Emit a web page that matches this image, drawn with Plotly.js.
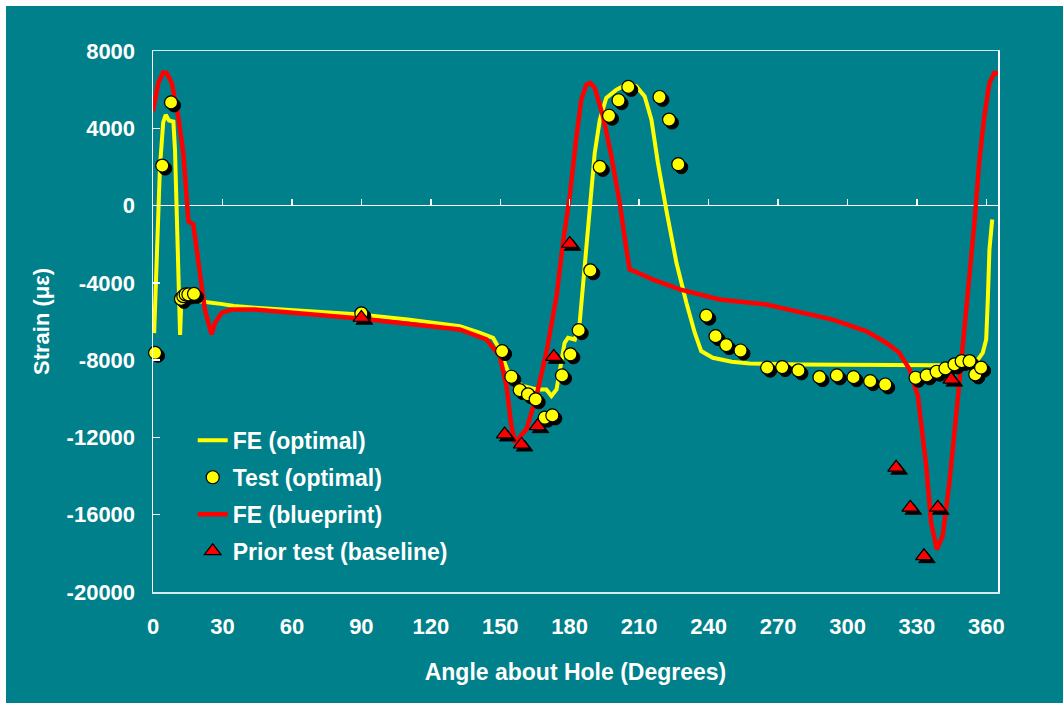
<!DOCTYPE html>
<html><head><meta charset="utf-8">
<script src="https://cdn.plot.ly/plotly-3.0.1.min.js"></script>
<style>
html,body{margin:0;padding:0;background:#ffffff;width:1063px;height:703px;overflow:hidden}
#chart{position:absolute;left:6px;top:6px;width:1057px;height:697px}
</style></head><body><div id="chart"></div>
<script>
// ---- data (angle in degrees, strain in microstrain) ----
const angleFEoptimal = [0.5,1.6,3,4.4,5.5,6.9,8.8,9.5,10.2,10.9,11.7,12.3,15,20,30,35,44,89.4,110,132.5,141,146.9,149.8,154.1,159.8,165.6,169.9,172.1,174.3,175.7,177.8,179.3,182.2,184.3,185.7,187.2,188.6,190.8,193,195.8,200.2,204.5,208.8,212.4,215.3,218.1,221.7,226.1,230.4,234,236.8,241.8,250,257.7,279.3,300,322.4,339.7,350,355.8,358.4,359.9,360.6,361.3,362.5];
const strainFEoptimal = [-6600,-2300,2000,4300,4700,4400,4350,2900,-550,-4000,-6700,-4700,-4800,-4950,-5100,-5200,-5290,-5640,-5900,-6240,-6580,-6850,-7450,-8830,-9340,-9520,-9520,-9860,-9520,-8480,-7100,-6840,-6930,-6070,-4170,-1590,140,2720,4450,5570,6000,6260,6170,5650,4450,2210,-210,-2960,-5030,-6580,-7530,-7880,-8080,-8170,-8220,-8250,-8270,-8270,-8200,-8050,-7620,-6930,-4860,-2280,-720];

const angleTest = [0.9,4.0,7.8,12.1,13.1,14.1,15.3,17.7,90,150.8,154.8,158.4,162,165.3,169.2,172.5,176.7,180.3,183.9,188.9,193,197,201.1,205.3,218.8,222.9,226.9,239,243,247.6,253.8,265.3,271.8,278.8,287.9,295.4,302.6,309.8,316.3,329.4,334.2,338.5,342.3,346.2,349.3,352.7,355.2,357.7];
const strainTest = [-7620,2070,5340,-4830,-4690,-4600,-4600,-4570,-5580,-7530,-8860,-9550,-9770,-10030,-10980,-10860,-8790,-7700,-6450,-3350,2000,4650,5450,6140,5620,4450,2140,-5700,-6760,-7220,-7500,-8390,-8360,-8530,-8880,-8790,-8880,-9090,-9260,-8910,-8790,-8600,-8430,-8220,-8050,-8050,-8740,-8390];

const angleFEblueprint = [0,2.3,4.4,5.9,8.1,10.9,13.1,14.5,15.3,17.4,19.6,22.4,25.3,26.8,29.7,34,44,89.4,132.5,144,149.8,152.7,154.8,156.3,161.3,165.6,169.9,174.3,177.1,180,182.9,185,187.2,188.9,190.8,194.4,198,201.6,204.5,205.9,208,216,227.5,236.1,244.7,264.9,293.6,308,316.7,322.4,326.8,330.4,332.5,334,336.1,338.6,341.1,344,347.6,351.2,354.8,357,359.1,361.3,363.4,365];
const strainFEblueprint = [4880,6350,6890,6860,6350,4620,2720,830,-810,-980,-2960,-5380,-6670,-6070,-5550,-5380,-5380,-5850,-6410,-6930,-7790,-9340,-11410,-12270,-11580,-9860,-7620,-4690,-1930,480,3580,5480,6260,6350,6090,4620,2550,140,-2280,-3310,-3400,-3830,-4340,-4600,-4860,-5120,-5900,-6500,-7100,-7620,-8480,-9860,-11930,-13480,-16410,-17790,-17100,-14340,-10030,-5720,-900,2380,4620,6350,6860,6830];

const anglePrior = [90,151.9,159.2,166.1,173.1,180,321,327.1,333,339,344.8];
const strainPrior = [-5800,-11840,-12360,-11410,-7820,-1970,-13560,-15630,-18140,-15630,-9000];

const xTickVals = [0,30,60,90,120,150,180,210,240,270,300,330,360];
const xTickText = ['0','30','60','90','120','150','180','210','240','270','300','330','360'];
const yTickVals = [-20000,-16000,-12000,-8000,-4000,0,4000,8000];
const yTickText = ['-20000','-16000','-12000','-8000','-4000','0','4000','8000'];

const seriesNames = ['FE (optimal)','Test (optimal)','FE (blueprint)','Prior test (baseline)'];

// ---- layout geometry ----
const W = 1057, H = 697;
const M = {l:147, r:65, t:45, b:111, pad:0};
const xRange = [0, 365], yRange = [-20000, 8000];
const plotW = W - M.l - M.r, plotH = H - M.t - M.b;
const shadowPx = 3;
const dx = shadowPx * (xRange[1]-xRange[0]) / plotW;
const dy = shadowPx * (yRange[1]-yRange[0]) / plotH;

const font = {family:'Liberation Sans, Arial, sans-serif', size:22, color:'#ffffff', weight:'bold'};
const bigFont = {family:'Liberation Sans, Arial, sans-serif', size:23, color:'#ffffff', weight:'bold'};
const teal = '#00808A';

const traces = [
  // shadows (drawn on a shifted overlay)
  {x:angleTest, y:strainTest, type:'scatter', mode:'markers', xaxis:'x2', yaxis:'y2', showlegend:false, hoverinfo:'skip', cliponaxis:false,
   marker:{symbol:'circle', size:13, color:'#000000', line:{width:1, color:'#000000'}}},
  {x:anglePrior, y:strainPrior, type:'scatter', mode:'markers', xaxis:'x2', yaxis:'y2', showlegend:false, hoverinfo:'skip', cliponaxis:false,
   marker:{symbol:'triangle-up', size:14.5, color:'#000000', line:{width:1, color:'#000000'}}},
  // main series
  {x:angleFEoptimal, y:strainFEoptimal, name:seriesNames[0], legendgroup:'a', type:'scatter', mode:'lines', xaxis:'x', yaxis:'y',
   line:{color:'#FFFF00', width:4}},
  {x:angleTest, y:strainTest, name:seriesNames[1], legendgroup:'b', type:'scatter', mode:'markers', xaxis:'x3', yaxis:'y', cliponaxis:false,
   marker:{symbol:'circle', size:13, color:'#FFFF00', line:{width:1.2, color:'#000000'}}},
  {x:angleFEblueprint, y:strainFEblueprint, name:seriesNames[2], legendgroup:'c', type:'scatter', mode:'lines', xaxis:'x', yaxis:'y',
   line:{color:'#FF0000', width:4.5}},
  {x:anglePrior, y:strainPrior, name:seriesNames[3], legendgroup:'d', type:'scatter', mode:'markers', xaxis:'x3', yaxis:'y', cliponaxis:false,
   marker:{symbol:'triangle-up', size:14.5, color:'#FF0000', line:{width:1.2, color:'#000000'}}}
];

const layout = {
  width:W, height:H, margin:M,
  paper_bgcolor:teal, plot_bgcolor:'rgba(0,0,0,0)',
  font:font, showlegend:true, hovermode:false,
  legend:{x:0.047, y:0.32, xanchor:'left', yanchor:'top', bgcolor:'rgba(0,0,0,0)', borderwidth:0,
          font:bigFont, tracegroupgap:4, traceorder:'grouped'},
  xaxis:{range:xRange, tickvals:xTickVals, ticktext:xTickText, ticks:'', showgrid:false, zeroline:false,
         showline:true, mirror:true, linecolor:'#d4eaec', linewidth:1.5, tickfont:font, ticklabelstandoff:14,
         title:{text:'Angle about Hole (Degrees)', font:bigFont, standoff:26}},
  yaxis:{range:yRange, tickvals:yTickVals, ticktext:yTickText, ticks:'inside', ticklen:7, tickwidth:1.5, tickcolor:'#ffffff',
         showgrid:false, zeroline:true, zerolinecolor:'#ffffff', zerolinewidth:1.5,
         showline:true, mirror:true, linecolor:'#ffffff', linewidth:1.5, tickfont:font, ticklabelstandoff:12,
         title:{text:'Strain (\u03bc\u03b5)', font:font, standoff:11}},
  xaxis2:{overlaying:'x', range:[xRange[0]-dx, xRange[1]-dx], visible:false},
  yaxis2:{overlaying:'y', range:[yRange[0]+dy, yRange[1]+dy], visible:false},
  xaxis3:{overlaying:'x', anchor:'free', position:(0-yRange[0])/(yRange[1]-yRange[0]), range:xRange,
          tickvals:xTickVals, ticks:'inside', ticklen:7, tickwidth:1.5, tickcolor:'#ffffff',
          showticklabels:false, showline:false, showgrid:false, zeroline:false}
};

Plotly.newPlot('chart', traces, layout, {staticPlot:true, displayModeBar:false});
</script></body></html>
